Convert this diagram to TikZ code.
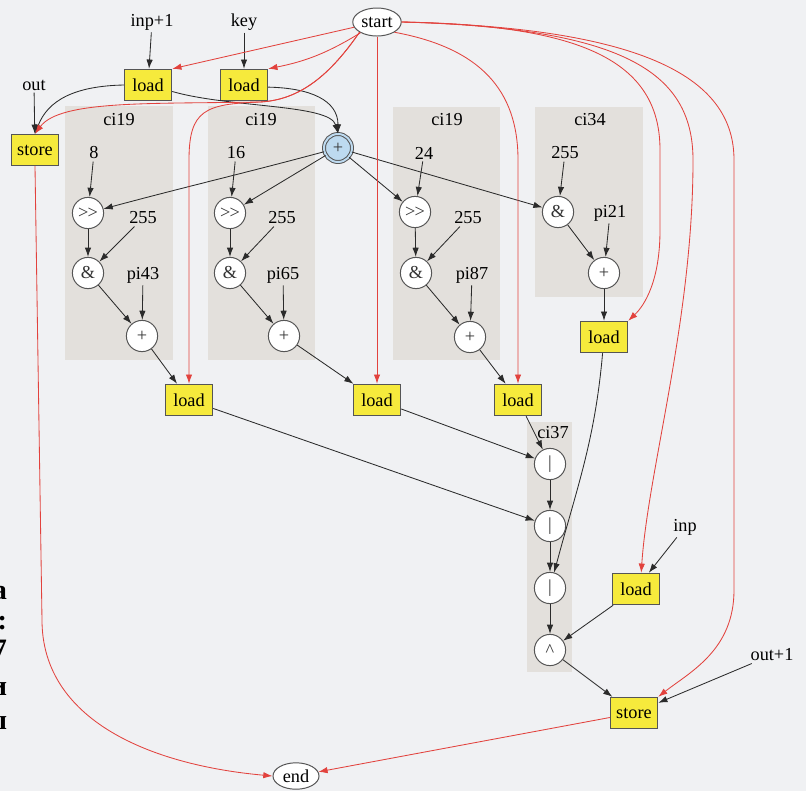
\documentclass[tikz,border=0pt]{standalone}
\usepackage{fontspec}
\setmainfont{Liberation Serif}
\usetikzlibrary{positioning, shapes.geometric, arrows.meta}
\definecolor{pageColor}{HTML}{F0F1F3}
\definecolor{clusterColor}{HTML}{E3E0DC}
\definecolor{memColor}{HTML}{F6EA3C}
\definecolor{memBorder}{HTML}{555555}
\definecolor{opBorder}{HTML}{555555}
\definecolor{keyColor}{HTML}{BDDAF0}
\definecolor{ctrlColor}{HTML}{E2423D}
\definecolor{dataColor}{HTML}{2B2B2B}

\begin{document}
\begin{tikzpicture}[
    x=0.025cm, y=-0.025cm,
    every node/.style={font=\fontsize{13}{15}\selectfont},
    mem/.style={
        rectangle,
        draw=memBorder,
        line width=0.9pt,
        fill=memColor,
        minimum width=1.18cm,
        minimum height=0.78cm,
        inner sep=1pt,
    },
    op/.style={
        circle,
        draw=opBorder,
        line width=0.7pt,
        fill=white,
        minimum size=0.78cm,
        inner sep=0pt,
        text=black!80,
    },
    keyop/.style={
        op,
        fill=keyColor,
        double=keyColor,
        double distance=1.4pt,
        minimum size=0.7cm,
    },
    term/.style={
        ellipse,
        draw=opBorder,
        line width=0.7pt,
        fill=white,
        minimum width=1.2cm,
        minimum height=0.7cm,
        inner sep=1pt,
    },
    val/.style={inner sep=1.5pt},
    cluster/.style={fill=clusterColor},
    side/.style={
        anchor=base east,
        font=\fontsize{20}{24}\selectfont\bfseries,
    },
    dep/.style={
        -{Latex[length=2.3mm, width=1.6mm]},
        line width=0.6pt,
        color=dataColor,
    },
    ctrl/.style={
        -{Latex[length=2.3mm, width=1.6mm]},
        line width=0.6pt,
        color=ctrlColor,
    },
]

\path[use as bounding box, fill=pageColor] (0,0) rectangle (806,791);

% ===== Texto lateral (cortado) =====
\begin{scope}
\clip (0,0) rectangle (806,791);
\node[side] (side1) at (12,599) {а};
\node[side] (side2) at (12,629) {а:};
\node[side] (side3) at (12,658) {7};
\node[side] (side4) at (12,695) {и};
\node[side] (side5) at (12,729) {ы};
\end{scope}

% ===== Clusters =====
\fill[cluster] (65,106) rectangle (173,360);
\fill[cluster] (208,106) rectangle (315,360);
\fill[cluster] (393,107) rectangle (500,360);
\fill[cluster] (535,107) rectangle (643,297);
\fill[cluster] (527,422) rectangle (572,672);
\node (cl1) at (119,120) {ci19};
\node (cl2) at (261,120) {ci19};
\node (cl3) at (447,120) {ci19};
\node (cl4) at (590,120) {ci34};
\node (cl5) at (553,433) {ci37};

% ===== Entrada =====
\node[term] (start) at (377,22) {start};
\node[val] (inp1) at (152,22) {inp+1};
\node[val] (key) at (244,22) {key};
\node[val] (out) at (34,85) {out};
\node[mem] (load1) at (148,85) {load};
\node[mem] (load2) at (244,85) {load};
\node[mem] (store1) at (35,150) {store};
\node[keyop] (mix) at (338,148) {+};

% ===== ci19 (8) =====
\node[val] (n8) at (94,153) {8};
\node[op] (shr1) at (88,213) {>\kern-0.5pt>};
\node[val] (m1) at (143,218) {255};
\node[op] (and1) at (88,273) {\&};
\node[val] (pi43) at (143,275) {pi43};
\node[op] (add1) at (142,336) {+};

% ===== ci19 (16) =====
\node[val] (n16) at (236,153) {16};
\node[op] (shr2) at (230,213) {>\kern-0.5pt>};
\node[val] (m2) at (282,218) {255};
\node[op] (and2) at (230,273) {\&};
\node[val] (pi65) at (283,275) {pi65};
\node[op] (add2) at (284,336) {+};

% ===== ci19 (24) =====
\node[val] (n24) at (424,153) {24};
\node[op] (shr3) at (415,212) {>\kern-0.5pt>};
\node[val] (m3) at (468,218) {255};
\node[op] (and3) at (416,273) {\&};
\node[val] (pi87) at (472,275) {pi87};
\node[op] (add3) at (470,337) {+};

% ===== ci34 =====
\node[val] (m4) at (565,153) {255};
\node[op] (and4) at (558,212) {\&};
\node[val] (pi21) at (610,213) {pi21};
\node[op] (add4) at (604,273) {+};

% ===== Loads =====
\node[mem] (loadA) at (189,400) {load};
\node[mem] (loadB) at (377,400) {load};
\node[mem] (loadC) at (518,400) {load};
\node[mem] (loadE) at (604,337) {load};

% ===== ci37 =====
\node[op] (or1) at (550,464) {\textbar};
\node[op] (or2) at (550,526) {\textbar};
\node[op] (or3) at (550,588) {\textbar};
\node[op] (xr) at (550,650) {\textasciicircum};

% ===== Salida =====
\node[val] (inp) at (685,527) {inp};
\node[mem] (loadD) at (636,589) {load};
\node[val] (out1) at (772,655) {out+1};
\node[mem] (store2) at (634,713) {store};
\node[term, minimum width=1.15cm, minimum height=0.66cm] (end) at (296,776) {end};

% ===== Datos =====
\draw[dep] (inp1) -- (load1);
\draw[dep] (key) -- (load2);
\draw[dep] (out) -- (store1);
\draw[dep] (load1.west) .. controls (75,86) and (48,100) .. (store1.north);
\draw[dep] (load1.-15) .. controls (230,108) and (330,104) .. (mix.north);
\draw[dep] (load2.-5) .. controls (310,88) and (338,100) .. (mix.north);
\draw[dep] (mix) to[out=195, in=15] (shr1);
\draw[dep] (mix) -- (shr2);
\draw[dep] (mix) -- (shr3);
\draw[dep] (mix) -- (and4);

\draw[dep] (n8) -- (shr1);
\draw[dep] (shr1) -- (and1);
\draw[dep] (m1) -- (and1);
\draw[dep] (and1) -- (add1);
\draw[dep] (pi43) -- (add1);
\draw[dep] (add1) -- (loadA);

\draw[dep] (n16) -- (shr2);
\draw[dep] (shr2) -- (and2);
\draw[dep] (m2) -- (and2);
\draw[dep] (and2) -- (add2);
\draw[dep] (pi65) -- (add2);
\draw[dep] (add2) -- (loadB);

\draw[dep] (n24) -- (shr3);
\draw[dep] (shr3) -- (and3);
\draw[dep] (m3) -- (and3);
\draw[dep] (and3) -- (add3);
\draw[dep] (pi87) -- (add3);
\draw[dep] (add3) -- (loadC);

\draw[dep] (m4) -- (and4);
\draw[dep] (and4) -- (add4);
\draw[dep] (pi21) -- (add4);
\draw[dep] (add4) -- (loadE);

\draw[dep] (loadA) -- (or2);
\draw[dep] (loadB) -- (or1);
\draw[dep] (loadC) -- (or1);
\draw[dep] (loadE) to[out=265, in=75] (or3);
\draw[dep] (or1) -- (or2);
\draw[dep] (or2) -- (or3);
\draw[dep] (or3) -- (xr);
\draw[dep] (inp) -- (loadD);
\draw[dep] (loadD) -- (xr);
\draw[dep] (xr) -- (store2);
\draw[dep] (out1) -- (store2);

% ===== Control (start -> end) =====
\draw[ctrl] (start) -- (load1.north east);
\draw[ctrl] (start) to[bend left=10] (load2.north east);
\draw[ctrl] (start.south west) .. controls (330,75) and (300,100) .. (260,102)
    .. controls (150,104) and (60,100) .. (store1.north);
\draw[ctrl] (start.south west) .. controls (330,75) and (300,100) .. (260,102)
    .. controls (205,104) and (189,110) .. (189,160) -- (loadA.north);
\draw[ctrl] (start) -- (loadB);
\draw[ctrl] (start.south east) .. controls (480,48) and (518,90) .. (518,160) -- (loadC.north);
\draw[ctrl] (start.east) .. controls (580,25) and (660,60) .. (660,150) -- (660,230)
    .. controls (660,280) and (645,305) .. (loadE.north east);
\draw[ctrl] (start.east) .. controls (620,28) and (693,70) .. (693,160)
    .. controls (693,320) and (648,470) .. ([xshift=0.13cm]loadD.north);
\draw[ctrl] (start.east) .. controls (650,28) and (734,80) .. (734,160) -- (734,590)
    .. controls (734,650) and (690,672) .. (store2.north east);
\draw[ctrl] (store1.south) -- (42,620) .. controls (42,720) and (150,765) .. (end.west);
\draw[ctrl] (store2) -- (end);

\end{tikzpicture}
\end{document}
